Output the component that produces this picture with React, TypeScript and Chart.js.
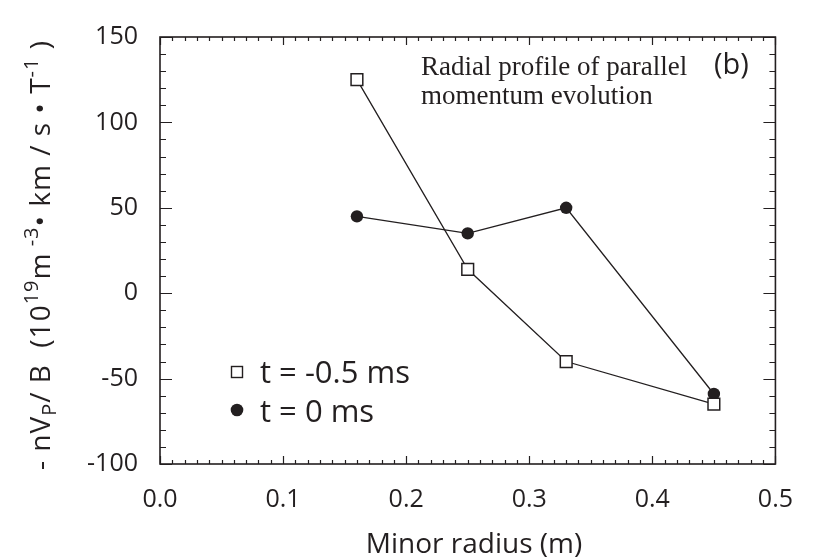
import React, { useEffect, useRef } from "react";
import { Chart, registerables } from "chart.js";

Chart.register(...registerables);

// ---- data ----
const radiusBefore = [0.16, 0.25, 0.33, 0.45];
const momentumBefore = [125, 14, -40, -65];
const radiusAfter = [0.16, 0.25, 0.33, 0.45];
const momentumAfter = [45, 35, 50, -59];
const seriesLabels = ["t = -0.5 ms", "t = 0 ms"];
const xTicks = [0, 0.1, 0.2, 0.3, 0.4, 0.5];
const yTicks = [-100, -50, 0, 50, 100, 150];
const xTitle = "Minor radius (m)";
const noteLines = ["Radial profile of parallel", "momentum evolution"];
const panelTag = "(b)";
// y title pieces: [text, kind]  kind: n normal, sub, sup
const yTitleParts: [string, string][] = [
  ["- nV", "n"],
  ["P", "sub"],
  ["/ B  (10", "n"],
  ["19", "sup"],
  ["m", "n"],
  [" -3", "sup"],
  ["\u2022 km / s \u2022 T", "n"],
  ["-1", "sup"],
  [" )", "n"],
];

const INK = "#231f20";
const SANS = '"Open Sans", "Noto Sans", sans-serif';
const SERIF = '"Liberation Serif", "DejaVu Serif", serif';

const decorPlugin = {
  id: "decor",
  afterDraw(chart: any) {
    const { ctx, chartArea: a } = chart;
    const xs = chart.scales.x;
    const ys = chart.scales.y;
    ctx.save();
    // frame
    ctx.strokeStyle = INK;
    ctx.lineWidth = 1.6;
    ctx.strokeRect(a.left, a.top, a.right - a.left, a.bottom - a.top);
    // ticks
    ctx.lineWidth = 1.2;
    ctx.beginPath();
    const xMin = xTicks[0];
    const xMax = xTicks[xTicks.length - 1];
    const nx = Math.round((xMax - xMin) / 0.01);
    for (let i = 0; i <= nx; i++) {
      const v = xMin + i * 0.01;
      const px = Math.round(xs.getPixelForValue(v)) + 0.5;
      const len = i % 10 === 0 ? 8 : 4;
      ctx.moveTo(px, a.bottom);
      ctx.lineTo(px, a.bottom - len);
      ctx.moveTo(px, a.top);
      ctx.lineTo(px, a.top + len);
    }
    const yMin = yTicks[0];
    const yMax = yTicks[yTicks.length - 1];
    for (let v = yMin; v <= yMax; v += 10) {
      const py = Math.round(ys.getPixelForValue(v)) + 0.5;
      const len = v % 50 === 0 ? 12 : 6;
      ctx.moveTo(a.left, py);
      ctx.lineTo(a.left + len, py);
      ctx.moveTo(a.right, py);
      ctx.lineTo(a.right - len, py);
    }
    ctx.stroke();

    ctx.fillStyle = INK;
    // x title
    ctx.font = `28px ${SANS}`;
    ctx.textAlign = "center";
    ctx.textBaseline = "alphabetic";
    ctx.fillText(xTitle, 474, 553);

    // annotation
    ctx.textAlign = "left";
    ctx.font = `27px ${SERIF}`;
    ctx.fillText(noteLines[0], 421, 75);
    ctx.fillText(noteLines[1], 421, 104);
    ctx.font = `29px ${SANS}`;
    ctx.fillText(panelTag, 714, 74);

    // legend
    const ds = chart.data.datasets;
    ctx.lineWidth = 1.4;
    ctx.strokeStyle = INK;
    ctx.fillStyle = "#ffffff";
    ctx.fillRect(231.5, 366.5, 11, 11);
    ctx.strokeRect(231.5, 366.5, 11, 11);
    ctx.fillStyle = INK;
    ctx.beginPath();
    ctx.arc(237, 410, 6.3, 0, Math.PI * 2);
    ctx.fill();
    ctx.font = `31px ${SANS}`;
    ctx.fillText(ds[0].label, 260, 383);
    ctx.fillText(ds[1].label, 260, 422);

    // y title (rotated)
    const base = 28;
    const fontFor = (k: string) =>
      k === "n" ? `${base}px ${SANS}` : `${Math.round(base * 0.7)}px ${SANS}`;
    let natural = 0;
    let nChars = 0;
    for (const [t, k] of yTitleParts) {
      ctx.font = fontFor(k);
      natural += ctx.measureText(t).width;
      nChars += t.length;
    }
    const target = 430;
    const ls = (target - natural) / nChars;
    ctx.translate(50, 470);
    ctx.rotate(-Math.PI / 2);
    ctx.textAlign = "left";
    let cx = 0;
    for (const [t, k] of yTitleParts) {
      ctx.font = fontFor(k);
      const dy = k === "sub" ? 6 : k === "sup" ? -12 : 0;
      for (const ch of t) {
        ctx.fillText(ch, cx, dy);
        cx += ctx.measureText(ch).width + ls;
      }
    }
    ctx.restore();
  },
};

export default function App() {
  const ref = useRef<HTMLCanvasElement | null>(null);
  useEffect(() => {
    if (!ref.current) return;
    const chart = new Chart(ref.current, {
      type: "scatter",
      data: {
        datasets: [
          {
            label: seriesLabels[0],
            data: radiusBefore.map((r, i) => ({ x: r, y: momentumBefore[i] })),
            showLine: true,
            borderColor: INK,
            borderWidth: 1.3,
            pointStyle: "rect",
            pointRadius: 8.3,
            pointBackgroundColor: "#ffffff",
            pointBorderColor: INK,
            pointBorderWidth: 1.5,
          },
          {
            label: seriesLabels[1],
            data: radiusAfter.map((r, i) => ({ x: r, y: momentumAfter[i] })),
            showLine: true,
            borderColor: INK,
            borderWidth: 1.3,
            pointStyle: "circle",
            pointRadius: 6.2,
            pointBackgroundColor: INK,
            pointBorderColor: INK,
            pointBorderWidth: 0,
          },
        ],
      },
      options: {
        animation: false,
        responsive: false,
        devicePixelRatio: 1,
        layout: { padding: { left: 0, top: 25, right: 36, bottom: 0 } },
        plugins: { legend: { display: false }, tooltip: { enabled: false } },
        scales: {
          x: {
            type: "linear",
            min: xTicks[0],
            max: xTicks[xTicks.length - 1],
            afterFit: (s: any) => {
              s.height = 95;
            },
            afterBuildTicks: (s: any) => {
              s.ticks = xTicks.map((v) => ({ value: v }));
            },
            grid: { display: false, drawTicks: false },
            border: { display: false },
            ticks: {
              padding: 21,
              color: INK,
              font: { family: SANS, size: 25 },
              maxRotation: 0,
              autoSkip: false,
              callback: (v: any) => Number(v).toFixed(1),
            },
          },
          y: {
            type: "linear",
            min: yTicks[0],
            max: yTicks[yTicks.length - 1],
            afterFit: (s: any) => {
              s.width = 160;
            },
            afterBuildTicks: (s: any) => {
              s.ticks = yTicks.map((v) => ({ value: v }));
            },
            grid: { display: false, drawTicks: false },
            border: { display: false },
            ticks: {
              padding: 22,
              color: INK,
              font: { family: SANS, size: 25 },
              autoSkip: false,
              callback: (v: any) => String(v),
            },
          },
        },
      } as any,
      plugins: [decorPlugin],
    });
    return () => chart.destroy();
  }, []);
  return (
    <div style={{ position: "absolute", left: 0, top: 0, width: 814, height: 559, background: "#fff" }}>
      <canvas ref={ref} width={814} height={559} style={{ display: "block" }} />
    </div>
  );
}
